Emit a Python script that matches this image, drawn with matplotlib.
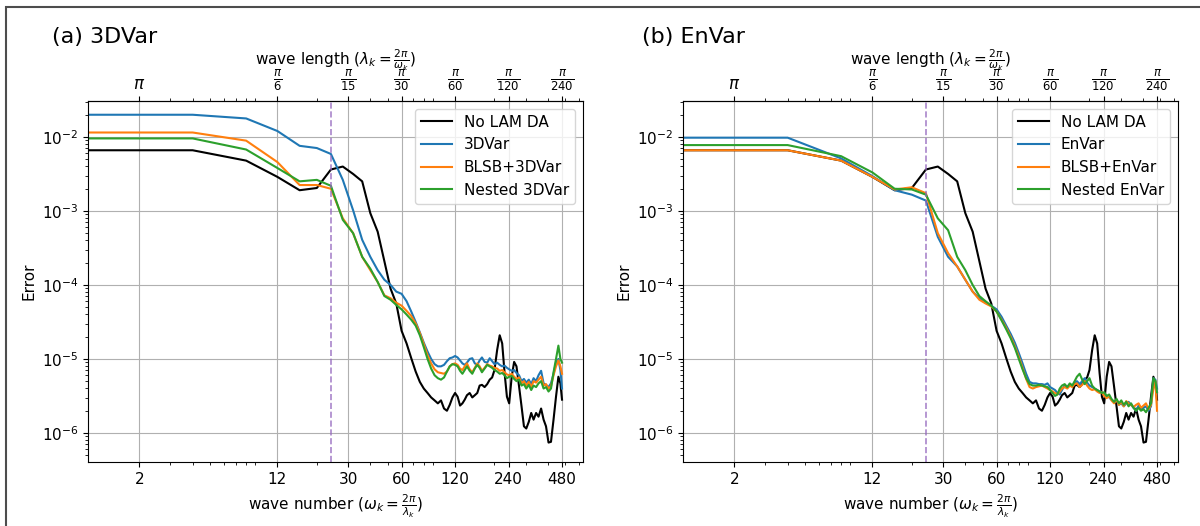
import numpy as np
import matplotlib.pyplot as plt
from matplotlib.patches import Rectangle
from matplotlib.ticker import NullFormatter

plt.rcParams['font.size'] = 11

# wave numbers (shared by every curve)
wave_number = [1, 4, 8, 12, 16, 20, 24, 28, 32, 36, 40, 44, 48, 52, 56, 60, 64, 68, 72, 76, 80,
               84, 88, 92, 96, 100, 104, 108, 112, 116, 120,
               124, 128, 132, 136, 140, 145, 150, 155, 160, 165, 170, 176, 182, 188, 194, 200,
               207, 214, 221, 228, 235, 242, 250, 258, 266, 275, 284, 293, 302, 312, 322, 332,
               343, 354, 366, 378, 390, 403, 416, 430, 444, 458, 470, 480]

# log10 of the error
log_no_lam = [-2.18, -2.18, -2.32, -2.54, -2.72, -2.69, -2.44, -2.40, -2.50, -2.60, -3.03, -3.28, -3.68, -4.05, -4.25, -4.62,
              -4.79, -4.99, -5.17, -5.31, -5.40, -5.46, -5.52, -5.56, -5.60, -5.56, -5.67, -5.70, -5.62, -5.52, -5.46,
              -5.51, -5.63, -5.60, -5.55, -5.49, -5.46, -5.52, -5.49, -5.46, -5.36, -5.35, -5.38, -5.34, -5.28, -5.25, -5.15,
              -4.88, -4.68, -4.79, -5.19, -5.51, -5.60, -5.24, -5.04, -5.10, -5.37, -5.64, -5.91, -5.94, -5.85, -5.73, -5.82,
              -5.73, -5.78, -5.67, -5.82, -5.91, -6.13, -6.12, -5.82, -5.51, -5.24, -5.33, -5.55]

# (a) 3DVar
log_3dvar = [-1.70, -1.70, -1.75, -1.92, -2.12, -2.15, -2.23, -2.58, -2.99, -3.39, -3.62, -3.80, -3.93, -4.00, -4.09, -4.12,
             -4.22, -4.36, -4.50, -4.64, -4.78, -4.90, -5.00, -5.07, -5.10, -5.10, -5.08, -5.03, -4.99, -4.98, -4.96,
             -4.98, -5.02, -5.06, -5.08, -5.05, -5.00, -4.99, -5.06, -5.08, -5.02, -4.98, -5.04, -5.05, -4.99, -5.03, -5.07,
             -5.05, -5.08, -5.10, -5.09, -5.12, -5.14, -5.16, -5.15, -5.19, -5.22, -5.30, -5.27, -5.32, -5.28, -5.34, -5.26,
             -5.30, -5.22, -5.16, -5.33, -5.35, -5.38, -5.33, -5.20, -5.05, -5.00, -5.15, -5.40]
log_blsb_3dvar = [-1.94, -1.94, -2.05, -2.34, -2.65, -2.65, -2.70, -3.10, -3.30, -3.62, -3.80, -3.96, -4.14, -4.18, -4.24, -4.28,
                  -4.35, -4.42, -4.52, -4.65, -4.80, -4.95, -5.06, -5.14, -5.18, -5.19, -5.20, -5.17, -5.10, -5.07, -5.06,
                  -5.08, -5.13, -5.15, -5.10, -5.06, -5.14, -5.18, -5.12, -5.06, -5.10, -5.16, -5.12, -5.07, -5.09, -5.10, -5.12,
                  -5.13, -5.16, -5.15, -5.18, -5.21, -5.22, -5.20, -5.24, -5.27, -5.25, -5.33, -5.30, -5.36, -5.31, -5.38, -5.30,
                  -5.32, -5.28, -5.24, -5.36, -5.34, -5.40, -5.37, -5.22, -5.10, -5.02, -5.10, -5.20]
log_nested_3dvar = [-2.02, -2.02, -2.17, -2.42, -2.60, -2.58, -2.66, -3.12, -3.30, -3.62, -3.78, -3.96, -4.15, -4.20, -4.27, -4.33,
                    -4.40, -4.47, -4.55, -4.68, -4.84, -5.00, -5.13, -5.22, -5.26, -5.28, -5.25, -5.17, -5.10, -5.07, -5.08,
                    -5.10, -5.16, -5.20, -5.15, -5.10, -5.16, -5.20, -5.13, -5.08, -5.12, -5.18, -5.13, -5.08, -5.10, -5.12, -5.15,
                    -5.17, -5.20, -5.19, -5.22, -5.26, -5.24, -5.23, -5.27, -5.30, -5.28, -5.36, -5.34, -5.40, -5.35, -5.42, -5.36,
                    -5.38, -5.33, -5.30, -5.40, -5.38, -5.44, -5.40, -5.18, -5.00, -4.82, -5.00, -5.05]

# (b) EnVar
log_envar = [-2.01, -2.01, -2.29, -2.53, -2.72, -2.78, -2.86, -3.35, -3.62, -3.75, -3.93, -4.09, -4.18, -4.24, -4.28, -4.33,
             -4.43, -4.55, -4.66, -4.78, -4.92, -5.06, -5.20, -5.31, -5.33, -5.33, -5.34, -5.34, -5.35, -5.33, -5.38,
             -5.40, -5.42, -5.46, -5.48, -5.42, -5.36, -5.38, -5.34, -5.36, -5.33, -5.30, -5.34, -5.30, -5.26, -5.32, -5.36,
             -5.38, -5.40, -5.42, -5.44, -5.45, -5.48, -5.50, -5.52, -5.55, -5.58, -5.56, -5.62, -5.60, -5.64, -5.60, -5.58,
             -5.62, -5.66, -5.70, -5.63, -5.68, -5.66, -5.64, -5.70, -5.64, -5.26, -5.28, -5.40]
log_blsb_envar = [-2.18, -2.18, -2.32, -2.54, -2.71, -2.68, -2.76, -3.30, -3.57, -3.75, -3.93, -4.09, -4.20, -4.25, -4.29, -4.36,
                  -4.47, -4.58, -4.70, -4.83, -4.97, -5.12, -5.27, -5.38, -5.40, -5.38, -5.37, -5.36, -5.38, -5.40, -5.42,
                  -5.44, -5.46, -5.48, -5.44, -5.40, -5.38, -5.40, -5.36, -5.38, -5.34, -5.33, -5.38, -5.35, -5.30, -5.36, -5.40,
                  -5.42, -5.41, -5.44, -5.46, -5.45, -5.50, -5.53, -5.50, -5.56, -5.60, -5.55, -5.62, -5.58, -5.64, -5.57, -5.60,
                  -5.62, -5.65, -5.62, -5.60, -5.66, -5.63, -5.60, -5.68, -5.62, -5.40, -5.30, -5.70]
log_nested_envar = [-2.11, -2.11, -2.26, -2.48, -2.70, -2.71, -2.78, -3.10, -3.26, -3.62, -3.80, -4.00, -4.15, -4.22, -4.28, -4.36,
                    -4.48, -4.60, -4.72, -4.85, -5.00, -5.14, -5.26, -5.34, -5.36, -5.36, -5.35, -5.36, -5.37, -5.38, -5.42,
                    -5.46, -5.50, -5.48, -5.40, -5.36, -5.34, -5.38, -5.33, -5.36, -5.30, -5.24, -5.20, -5.28, -5.34, -5.30, -5.26,
                    -5.36, -5.40, -5.42, -5.44, -5.46, -5.45, -5.50, -5.48, -5.54, -5.58, -5.54, -5.60, -5.56, -5.62, -5.58, -5.64,
                    -5.60, -5.66, -5.70, -5.66, -5.70, -5.68, -5.72, -5.66, -5.60, -5.26, -5.30, -5.45]

# tick positions and labels
wn_ticks = [2, 12, 30, 60, 120, 240, 480]
wn_labels = ['2', '12', '30', '60', '120', '240', '480']
wl_labels = [r'$\pi$', r'$\frac{\pi}{6}$', r'$\frac{\pi}{15}$', r'$\frac{\pi}{30}$',
             r'$\frac{\pi}{60}$', r'$\frac{\pi}{120}$', r'$\frac{\pi}{240}$']
cutoff = 24

panels = [
    ('(a) 3DVar', ['No LAM DA', '3DVar', 'BLSB+3DVar', 'Nested 3DVar'],
     [log_no_lam, log_3dvar, log_blsb_3dvar, log_nested_3dvar]),
    ('(b) EnVar', ['No LAM DA', 'EnVar', 'BLSB+EnVar', 'Nested EnVar'],
     [log_no_lam, log_envar, log_blsb_envar, log_nested_envar]),
]
colors = ['black', 'tab:blue', 'tab:orange', 'tab:green']

fig = plt.figure(figsize=(12, 5.26), dpi=100)

# frame around the figure (cut off at right and bottom)
fig.add_artist(Rectangle((0.005, -0.5), 2, 1.4867, transform=fig.transFigure,
                         fill=False, edgecolor='0.3', linewidth=1.5, clip_on=False))

lefts = [88 / 1200, 683 / 1200]
title_x = [52 / 1200, 642 / 1200]

for i, (title, names, series) in enumerate(panels):
    ax = fig.add_axes([lefts[i], 64 / 526, 495 / 1200, 361 / 526])
    for name, vals, c in zip(names, series, colors):
        ax.plot(wave_number, 10 ** np.array(vals), color=c, label=name, linewidth=1.5)
    ax.axvline(cutoff, color='tab:purple', linestyle='--', linewidth=1.2, alpha=0.8)

    ax.set_xscale('log')
    ax.set_yscale('log')
    ax.set_xlim(1.03, 630)
    ax.set_ylim(4.05e-7, 3.06e-2)
    ax.set_xticks(wn_ticks)
    ax.set_xticklabels(wn_labels)
    ax.xaxis.set_minor_formatter(NullFormatter())
    ax.grid(True, which='major')
    ax.set_xlabel(r'wave number ($\omega_k = \frac{2\pi}{\lambda_k}$)')
    ax.set_ylabel('Error')
    ax.legend(loc='upper right')

    # wave length axis on top
    top = ax.secondary_xaxis('top')
    top.set_xticks(wn_ticks)
    top.set_xticklabels(wl_labels)
    top.xaxis.set_minor_formatter(NullFormatter())
    top.tick_params(axis='x', which='major', labelsize=12, pad=2)
    top.set_xlabel(r'wave length ($\lambda_k = \frac{2\pi}{\omega_k}$)', labelpad=2)

    fig.text(title_x[i], 1 - 37 / 526, title, fontsize=16, va='center')

plt.savefig('out.png', dpi=100)
